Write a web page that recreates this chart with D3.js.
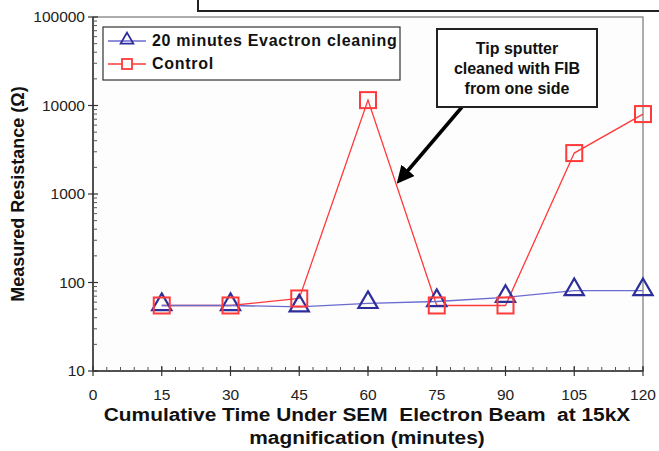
<!DOCTYPE html>
<html>
<head>
<meta charset="utf-8">
<script src="https://cdn.jsdelivr.net/npm/d3@7"></script>
<style>
  body { margin: 0; background: #fff; }
  svg { font-family: Arial, "Liberation Sans", sans-serif; }
</style>
</head>
<body>
<svg width="659" height="451"></svg>
<script>
// data
var times = [15, 30, 45, 60, 75, 90, 105, 120];
var evactron = [55, 55, 53, 58, 61, 68, 81, 81];
var control = [55, 55, 66, 11500, 55, 55, 2900, 8000];
var xTicks = [0, 15, 30, 45, 60, 75, 90, 105, 120];
var yTicks = [10, 100, 1000, 10000, 100000];
var seriesNames = ["20 minutes Evactron cleaning", "Control"];
var noteLines = ["Tip sputter", "cleaned with FIB", "from one side"];
var xTitle = ["Cumulative Time Under SEM  Electron Beam  at 15kX", "magnification (minutes)"];

var svg = d3.select("svg");
var margin = {left: 93, right: 16, top: 17, bottom: 80};
var W = 659, H = 451;

var x = d3.scaleLinear().domain([0, 120]).range([margin.left, W - margin.right]);
var y = d3.scaleLog().domain([10, 100000]).range([H - margin.bottom, margin.top]);

// top box cut off by the frame
svg.append("rect").attr("x", 198).attr("y", -20).attr("width", 480).attr("height", 31)
  .attr("fill", "#fff").attr("stroke", "#222").attr("stroke-width", 2);

// plot frame
svg.append("rect").attr("x", x(0)).attr("y", y(100000))
  .attr("width", x(120) - x(0)).attr("height", y(10) - y(100000))
  .attr("fill", "#fdfdfd").attr("stroke", "#777").attr("stroke-width", 1.2);

// y axis with minor log ticks
var yMinor = [];
for (var e = 1; e < 5; e++) for (var m = 2; m < 10; m++) yMinor.push(m * Math.pow(10, e));
var gy = svg.append("g");
gy.append("line").attr("x1", x(0)).attr("x2", x(0)).attr("y1", y(10)).attr("y2", y(100000))
  .attr("stroke", "#333").attr("stroke-width", 1.5);
gy.selectAll(".minor").data(yMinor).enter().append("line")
  .attr("x1", x(0)).attr("x2", x(0) + 4).attr("y1", d => y(d)).attr("y2", d => y(d))
  .attr("stroke", "#555");
gy.selectAll(".major").data(yTicks).enter().append("line")
  .attr("x1", x(0) - 5).attr("x2", x(0) + 5).attr("y1", d => y(d)).attr("y2", d => y(d))
  .attr("stroke", "#333").attr("stroke-width", 1.2);
gy.selectAll("text").data(yTicks).enter().append("text")
  .attr("x", x(0) - 8).attr("y", d => y(d) + 5).attr("text-anchor", "end")
  .attr("font-size", 15.5).attr("fill", "#222").text(d => d);

// x axis: major every 15, minor every 3
var xMinor = d3.range(0, 121, 3);
var gx = svg.append("g");
gx.append("line").attr("x1", x(0)).attr("x2", x(120)).attr("y1", y(10)).attr("y2", y(10))
  .attr("stroke", "#333").attr("stroke-width", 1.5);
gx.selectAll(".minor").data(xMinor).enter().append("line")
  .attr("x1", d => x(d)).attr("x2", d => x(d)).attr("y1", y(10)).attr("y2", y(10) - 4)
  .attr("stroke", "#555");
gx.selectAll(".major").data(xTicks).enter().append("line")
  .attr("x1", d => x(d)).attr("x2", d => x(d)).attr("y1", y(10) - 5).attr("y2", y(10) + 5)
  .attr("stroke", "#333").attr("stroke-width", 1.2);
gx.selectAll("text").data(xTicks).enter().append("text")
  .attr("x", d => x(d)).attr("y", 400).attr("text-anchor", "middle")
  .attr("font-size", 15.5).attr("fill", "#222").text(d => d);

// axis titles
svg.append("text").attr("transform", "translate(24," + (y(10) + y(100000)) / 2 + ") rotate(-90)")
  .attr("text-anchor", "middle").attr("font-size", 18).attr("font-weight", "bold")
  .attr("fill", "#111").text("Measured Resistance (Ω)");
svg.selectAll(".xt").data(xTitle).enter().append("text")
  .attr("transform", (d, i) => "translate(367," + (421 + i * 23) + ") scale(1.13,1)")
  .attr("text-anchor", "middle").attr("font-size", 18.5).attr("font-weight", "bold")
  .attr("fill", "#111").attr("xml:space", "preserve").text(d => d);

// series
var blue = "#6a6ad0", blueMark = "#2e2e9a", red = "#ff3a3a";
var line = d3.line().x(d => x(d[0])).y(d => y(d[1]));
var bData = times.map((t, i) => [t, evactron[i]]);
var rData = times.map((t, i) => [t, control[i]]);

svg.append("path").datum(rData).attr("d", line).attr("fill", "none")
  .attr("stroke", red).attr("stroke-width", 1.3);
svg.append("path").datum(bData).attr("d", line).attr("fill", "none")
  .attr("stroke", blue).attr("stroke-width", 1.3);

var tri = d3.symbol().type(d3.symbolTriangle).size(160);
svg.selectAll(".tri").data(bData).enter().append("path")
  .attr("transform", d => "translate(" + x(d[0]) + "," + (y(d[1]) - 1) + ")")
  .attr("d", tri).attr("fill", "none").attr("stroke", blueMark).attr("stroke-width", 2.2);
svg.selectAll(".sq").data(rData).enter().append("rect")
  .attr("x", d => x(d[0]) - 8).attr("y", d => y(d[1]) - 8)
  .attr("width", 16).attr("height", 16)
  .attr("fill", "none").attr("stroke", red).attr("stroke-width", 2);

// legend
var lg = svg.append("g");
lg.append("rect").attr("x", 103).attr("y", 27).attr("width", 297).attr("height", 53)
  .attr("fill", "#fff").attr("stroke", "#333").attr("stroke-width", 1.2);
lg.append("line").attr("x1", 108).attr("x2", 146).attr("y1", 41).attr("y2", 41)
  .attr("stroke", blue).attr("stroke-width", 1.3);
lg.append("path").attr("transform", "translate(127,40)")
  .attr("d", d3.symbol().type(d3.symbolTriangle).size(70)).attr("fill", "none")
  .attr("stroke", blueMark).attr("stroke-width", 1.8);
lg.append("line").attr("x1", 108).attr("x2", 146).attr("y1", 64).attr("y2", 64)
  .attr("stroke", red).attr("stroke-width", 1.3);
lg.append("rect").attr("x", 122).attr("y", 59).attr("width", 10).attr("height", 10)
  .attr("fill", "#fff").attr("stroke", red).attr("stroke-width", 1.8);
lg.selectAll("text").data(seriesNames).enter().append("text")
  .attr("x", 152).attr("y", (d, i) => 46 + i * 23)
  .attr("font-size", 16).attr("font-weight", "bold").attr("letter-spacing", 0.7)
  .attr("fill", "#111").text(d => d);

// annotation box and arrow
svg.append("defs").append("marker").attr("id", "head")
  .attr("viewBox", "0 0 10 10").attr("refX", 8).attr("refY", 5)
  .attr("markerWidth", 5).attr("markerHeight", 5).attr("orient", "auto")
  .append("path").attr("d", "M0,0 L10,5 L0,10 Z").attr("fill", "#000");
svg.append("line").attr("x1", 462).attr("y1", 107).attr("x2", 399).attr("y2", 181)
  .attr("stroke", "#000").attr("stroke-width", 3.5).attr("marker-end", "url(#head)");
svg.append("rect").attr("x", 437).attr("y", 29).attr("width", 160).attr("height", 78)
  .attr("fill", "#fff").attr("stroke", "#222").attr("stroke-width", 2);
svg.selectAll(".note").data(noteLines).enter().append("text")
  .attr("x", 517).attr("y", (d, i) => 54 + i * 20).attr("text-anchor", "middle")
  .attr("font-size", 16).attr("font-weight", "bold").attr("fill", "#111").text(d => d);
</script>
</body>
</html>
